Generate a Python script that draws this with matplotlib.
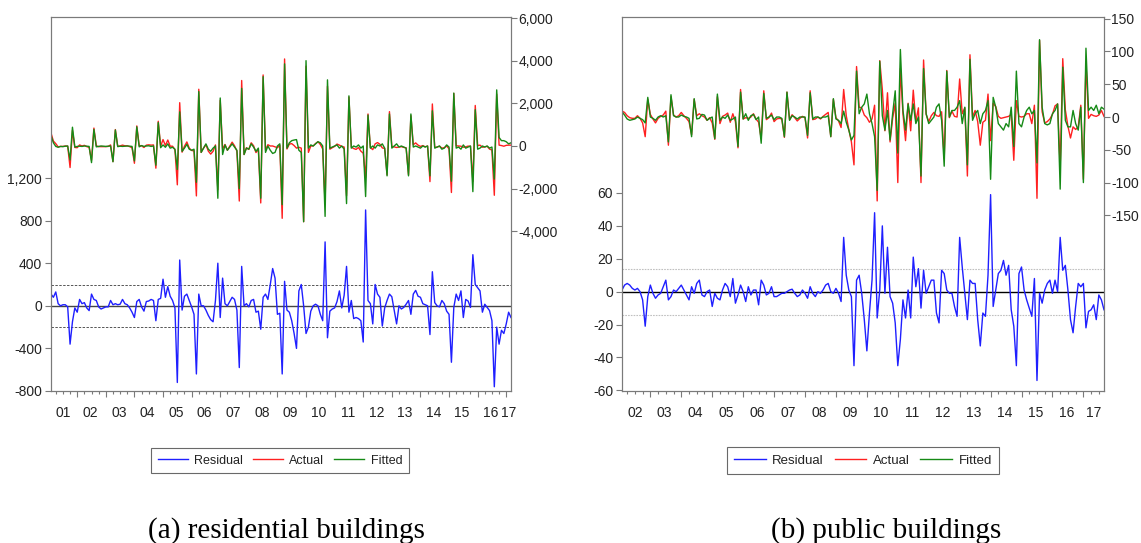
import matplotlib
matplotlib.use("Agg")
import matplotlib.pyplot as plt
import matplotlib.transforms as mtransforms
from matplotlib.ticker import FuncFormatter
from matplotlib.lines import Line2D
import numpy as np

plt.rcParams['font.family'] = ['Liberation Sans', 'DejaVu Sans']

# ---------------- Panel (a): residential buildings (monthly, from 2001M02) ----------------
years_a = ['01', '02', '03', '04', '05', '06', '07', '08', '09', '10', '11', '12', '13', '14', '15', '16', '17']
start_a = (2001, 2)

residual_a = [
    110, 80, 130, 20, 0, 10, 10, -10, -360, -150,
    -20, -60, 60, 20, 30, -20, -45, 110, 60, 50,
    -10, -30, -20, -10, -10, 50, 10, 20, 10, 15,
    60, 20, 10, -20, -60, -110, 40, 60, -10, -50,
    40, 45, 60, 50, -140, 60, 70, 250, 80, 180,
    90, 50, -20, -720, 430, -40, 90, 110, 50, -10,
    -80, -640, 110, 0, 0, -40, -90, -130, -150, 50,
    400, -110, 260, 20, 0, 40, 80, 60, -40, -580,
    370, 0, 20, -10, 50, 60, -60, -50, -220, 80,
    110, 60, 200, 350, 260, -80, -70, -640, 230, -40,
    -60, -140, -260, -400, 140, 200, 0, -260, -200, -50,
    0, 15, 0, -80, -140, 600, -300, -50, -30, -20,
    40, 140, -20, 100, 370, -60, 50, -120, -110, -120,
    -140, -340, 900, 50, 20, -170, 200, 110, 80, -190,
    -20, 50, 110, 85, -45, -170, 0, -30, -15, 15,
    50, -80, 110, 145, 90, 80, 20, 10, 0, -270,
    320, 30, 0, -10, 50, 20, -50, -80, -530, -15,
    110, 50, 140, -110, 60, 45, -15, 480, 200, 170,
    140, -60, 15, -15, -45, -140, -760, -200, -360, -230,
    -260, -170, -60, -110]

fitted_a = [
    500, 150, -20, -60, -20, -30, -10, 0, -650, 880,
    -50, -20, -10, -20, 0, -10, -20, -780, 780, -40,
    -20, 0, -10, -20, -10, 0, -740, 750, -30, -10,
    -20, -10, 0, -10, -20, -700, 900, -40, 20, -20,
    0, 10, -20, 0, -900, 1100, -80, 50, -60, 100,
    -100, -60, -150, -1100, 1600, -250, -100, 80, -150, -200,
    -150, -1700, 2550, -300, -100, 100, -150, -250, -100, 0,
    -2450, 2250, -400, 50, -200, -50, 100, -50, -200, -2000,
    2700, -400, -100, -150, 100, -50, -250, -100, -2450, 3250,
    -300, 0, -200, -350, -300, 0, 100, -2750, 3850, -100,
    150, 250, 280, 300, -200, -300, -3550, 4000, -100, 50,
    0, 100, 200, 150, 0, -3300, 3100, -100, -50, 0,
    50, -100, 0, -150, -2700, 2350, -100, 0, -50, 50,
    -100, 0, -2370, 1450, -100, 0, -100, 50, 0, 100,
    -100, -1400, 1500, -100, 0, 100, -50, 0, -50, -100,
    -1400, 1500, -50, 0, -50, -100, 0, -50, 0, -1400,
    1650, -100, -50, 0, -150, -100, 50, -50, -1650, 2480,
    -100, -50, -150, 50, -100, -50, 0, -2140, 1700, -150,
    -100, 0, -50, 0, -100, -50, -1550, 2630, 400, 250,
    250, 200, 100, 150]

actual_a = [
    610, 230, 110, -40, -20, -20, 0, -10, -1010, 730,
    -70, -80, 50, 0, 30, -30, -65, -670, 840, 10,
    -30, -30, -30, -30, -20, 50, -730, 770, -20, 5,
    40, 10, 10, -30, -80, -810, 940, 20, 10, -70,
    40, 55, 40, 50, -1040, 1160, -10, 300, 20, 280,
    -10, -10, -170, -1820, 2030, -290, -10, 190, -100, -210,
    -230, -2340, 2660, -300, -100, 60, -240, -380, -250, 50,
    -2050, 2140, -140, 70, -200, -10, 180, 10, -240, -2580,
    3070, -400, -80, -160, 150, 10, -310, -150, -2670, 3330,
    -190, 60, 0, 0, -40, -80, 30, -3390, 4080, -140,
    90, 110, 20, -100, -60, -100, -3550, 3740, -300, 0,
    0, 115, 200, 70, -140, -2700, 2800, -150, -80, -20,
    90, 40, -20, -50, -2330, 2290, -50, -120, -160, -70,
    -240, -340, -1470, 1500, -80, -170, 100, 160, 80, -90,
    -120, -1350, 1610, -15, -45, -70, -50, -30, -65, -85,
    -1350, 1420, 60, 145, 40, -20, 20, -40, 0, -1670,
    1970, -70, -50, -10, -100, -80, 0, -130, -2180, 2465,
    10, 0, -10, -60, -40, -5, -15, -1660, 1900, 20,
    40, -60, -35, -15, -145, -190, -2310, 2430, 40, 20,
    -10, 30, 40, 40]

# ---------------- Panel (b): public buildings (monthly, from 2002M02) ----------------
years_b = ['02', '03', '04', '05', '06', '07', '08', '09', '10', '11', '12', '13', '14', '15', '16', '17']
start_b = (2002, 2)

residual_b = [
    1, 4, 5, 4, 2, 1, 2, 0, -5, -21,
    -3, 4, -1, -4, -2, -1, 3, 7, -5, -3,
    1, 0, 2, 4, 1, -2, -5, 3, -1, 5,
    7, -2, -3, 0, 1, -9, -1, -4, -5, 1,
    5, 3, -3, 8, -7, -2, 4, 0, -6, 3,
    -2, 1, 1, -8, 7, 4, -2, -1, 3, -3,
    -3, -2, -1, -1, 0, 1, 1.5, -1, -3, -2,
    1, -1, -4, 3, -1, -3, 0, -1, 1, 4,
    5, 0, -1, 2, -1, -6, 33, 10, 1, -3,
    -45, 7, 10, -1, -17, -36, -13, 7, 48, -16,
    1, 40, -1, 27, -3, -7, -19, -45, -29, -5,
    -16, 1, -16, 21, 3, 14, -10, 13, -1, 3,
    7, 7, -13, -19, 13, 11, 1, -1, -1, -9,
    -15, 33, 15, -1, -17, 7, 5, 5, -17, -33,
    -13, -15, 10, 59, -9, 1, 11, 13, 19, 10,
    16, -11, -21, -45, 11, 15, 1, -5, -10, -15,
    8, -54, -1, -7, 1, 5, 7, -1, 7, 0,
    33, 13, 16, 1, -17, -25, -9, 5, 3, 5,
    -22, -12, -11, -8, -17, -2, -5, -11]

fitted_b = [
    8, 3, -3, -5, -4, -3, 0, -2, -4, -9,
    30, 0, -2, -5, 0, 2, 0, 2, -38, 34,
    2, 0, 0, 3, 1, 0, -2, -30, 28, -3,
    -2, 4, 3, -5, -2, 0, -33, 35, -5, 0,
    -2, 3, -5, -3, 0, -45, 38, -3, 5, -5,
    2, 4, -4, 0, -40, 36, -2, 0, 3, -4,
    0, 0, -2, -30, 38, -5, 2, 0, -3, 0,
    0, 0, -28, 37, -3, 0, 0, -2, 0, 0,
    2, -30, 28, -3, -5, -10, 9, -8, -20, -35,
    -28, 70, 5, 15, 20, 35, 5, -10, -30, -112,
    85, 2, -20, 10, -35, 5, 40, -55, 103, 10,
    -20, 20, -5, 20, -10, 0, -90, 74, 5, -10,
    -5, 0, 15, 20, -5, -75, 70, 0, 10, 10,
    15, 25, -10, 15, -73, 88, -5, 5, 10, -10,
    5, 10, 25, -95, 30, 15, -10, -15, -20, -10,
    -15, 15, -45, 70, -10, -15, 0, 10, 15, 5,
    10, -70, 118, 15, -10, -12, -10, 5, 10, 20,
    -110, 76, -5, -15, -15, 10, -10, -20, 15, -100,
    105, 10, 15, 10, 18, 5, 15, 12]

actual_b = [
    9, 7, 2, -1, -2, -2, 2, -2, -9, -30,
    27, 4, -3, -9, -2, 1, 3, 9, -43, 31,
    3, 0, 2, 7, 2, -2, -7, -27, 27, 2,
    5, 2, 0, -5, -1, -9, -34, 31, -10, 1,
    3, 6, -8, 5, -7, -47, 42, -3, -1, -2,
    0, 5, -3, -8, -33, 40, -4, -1, 6, -7,
    -3, -2, -3, -31, 38, -4, 3.5, -1, -6, -2,
    1, -1, -32, 40, -4, -3, 0, -3, 1, 4,
    7, -30, 27, -1, -6, -16, 42, 2, -19, -38,
    -73, 77, 15, 14, 3, -1, -8, -3, 18, -128,
    86, 42, -21, 37, -38, -2, 21, -100, 74, 5,
    -36, 21, -21, 41, -7, 14, -100, 87, 4, -7,
    2, 7, 2, 1, 8, -64, 71, -1, 9, 1,
    0, 58, 5, 14, -90, 95, 0, 10, -7, -43,
    -8, -5, 35, -36, 21, 16, 1, -2, -1, 0,
    1, 4, -66, 25, 1, 0, 1, 5, 5, -10,
    18, -124, 117, 8, -9, -7, -3, 4, 17, 20,
    -77, 89, 11, -14, -32, -15, -19, -15, 18, -95,
    83, -2, 4, 2, 1, 3, 10, 1]

series_labels = ['Residual', 'Actual', 'Fitted']
C_RES, C_ACT, C_FIT = '#1f1fff', '#ff2020', '#168a16'
FRAME = '#7a7a7a'

fig = plt.figure(figsize=(11.41, 5.43), dpi=100)
W, H = 1141.0, 543.0


def comma(v, pos):
    return f"{v:,.0f}"


def panel(rect, resid, actual, fitted, start, year_labels, res_lim, res_ticks,
          af_lim, af_ticks, band, band_kw, zero_color):
    n = min(len(resid), len(actual), len(fitted))
    x = np.arange(n)
    ax = fig.add_axes(rect)
    ax2 = ax.twinx()

    for a in (ax, ax2):
        for s in a.spines.values():
            s.set_color(FRAME)
            s.set_linewidth(0.8)

    # residual reference lines
    ax.axhline(0, color=zero_color, lw=1.0, zorder=1)
    ax.axhline(band, **band_kw)
    ax.axhline(-band, **band_kw)
    ax.plot(x, resid[:n], color=C_RES, lw=1.0, zorder=2)
    ax2.plot(x, actual[:n], color=C_ACT, lw=1.0)
    ax2.plot(x, fitted[:n], color=C_FIT, lw=1.0)

    ax.set_xlim(0, n - 1)
    ax.set_ylim(*res_lim)
    ax2.set_ylim(*af_lim)
    ax.set_yticks(res_ticks)
    ax2.set_yticks(af_ticks)
    ax.yaxis.set_major_formatter(FuncFormatter(comma))
    ax2.yaxis.set_major_formatter(FuncFormatter(comma))
    ax.tick_params(axis='y', direction='out', length=4.3, width=0.8, color=FRAME,
                   labelsize=10, pad=2, labelcolor='#222222')
    ax2.tick_params(axis='y', direction='out', length=4.3, width=0.8, color=FRAME,
                    labelsize=10, pad=1, labelcolor='#222222')

    # time axis: year starts (long ticks), quarters (short ticks), labels mid-year
    y0, m0 = start
    jan0 = -(m0 - 1)
    nyears = len(year_labels)
    year_starts = [jan0 + 12 * k for k in range(nyears + 1)]
    major = [s for s in year_starts if 0 <= s <= n - 1]
    minor = [jan0 + 3 * k for k in range(4 * nyears + 1) if 0 <= jan0 + 3 * k <= n - 1]
    ax.set_xticks(major)
    ax.set_xticks(minor, minor=True)
    ax.set_xticklabels([])
    ax.tick_params(axis='x', which='major', direction='out', length=4.5, width=0.8, color=FRAME)
    ax.tick_params(axis='x', which='minor', direction='out', length=2.5, width=0.8, color=FRAME)
    trans = mtransforms.blended_transform_factory(ax.transData, ax.transAxes)
    for k, lab in enumerate(year_labels):
        s = max(year_starts[k], 0)
        e = min(year_starts[k] + 11, n - 1)
        ax.text((s + e) / 2.0, -0.059, lab, transform=trans, ha='center', va='center',
                fontsize=10, color='#222222')
    return ax


ax_a = panel([51 / W, 1 - 391 / H, 460 / W, 374 / H], residual_a, actual_a, fitted_a,
             start_a, years_a, (-800, 2712), [-800, -400, 0, 400, 800, 1200],
             (-11486, 6047), [-4000, -2000, 0, 2000, 4000, 6000], 200,
             dict(color='#555555', lw=0.7, ls=(0, (2.5, 1.5)), zorder=1), '#444444')

ax_b = panel([622 / W, 1 - 391 / H, 482 / W, 374 / H], residual_b, actual_b, fitted_b,
             start_b, years_b, (-60.4, 167), [-60, -40, -20, 0, 20, 40, 60],
             (-418, 152.6), [-150, -100, -50, 0, 50, 100, 150], 14,
             dict(color='#c0c0c0', lw=0.8, ls=(0, (1.5, 1)), zorder=1), '#000000')

handles = [Line2D([], [], color=C_RES, lw=1.0),
           Line2D([], [], color=C_ACT, lw=1.0),
           Line2D([], [], color=C_FIT, lw=1.0)]
for cx, fs in ((280 / W, 9), (863 / W, 9.5)):
    leg = fig.legend(handles, series_labels, loc='center', bbox_to_anchor=(cx, 1 - 460.5 / H),
                     ncol=3, frameon=True, fancybox=False, fontsize=fs, handlelength=2.4,
                     handletextpad=0.5, columnspacing=0.8, borderpad=0.55, borderaxespad=0)
    leg.get_frame().set_edgecolor('#444444')
    leg.get_frame().set_linewidth(0.8)
    for t in leg.get_texts():
        t.set_color('#222222')

fig.text(286 / W, 5 / H, '(a) residential buildings', ha='center', va='baseline',
         family=['Liberation Serif', 'DejaVu Serif'], fontsize=21)
fig.text(886 / W, 5 / H, '(b) public buildings', ha='center', va='baseline',
         family=['Liberation Serif', 'DejaVu Serif'], fontsize=21)

fig.savefig('out.png', dpi=100)
